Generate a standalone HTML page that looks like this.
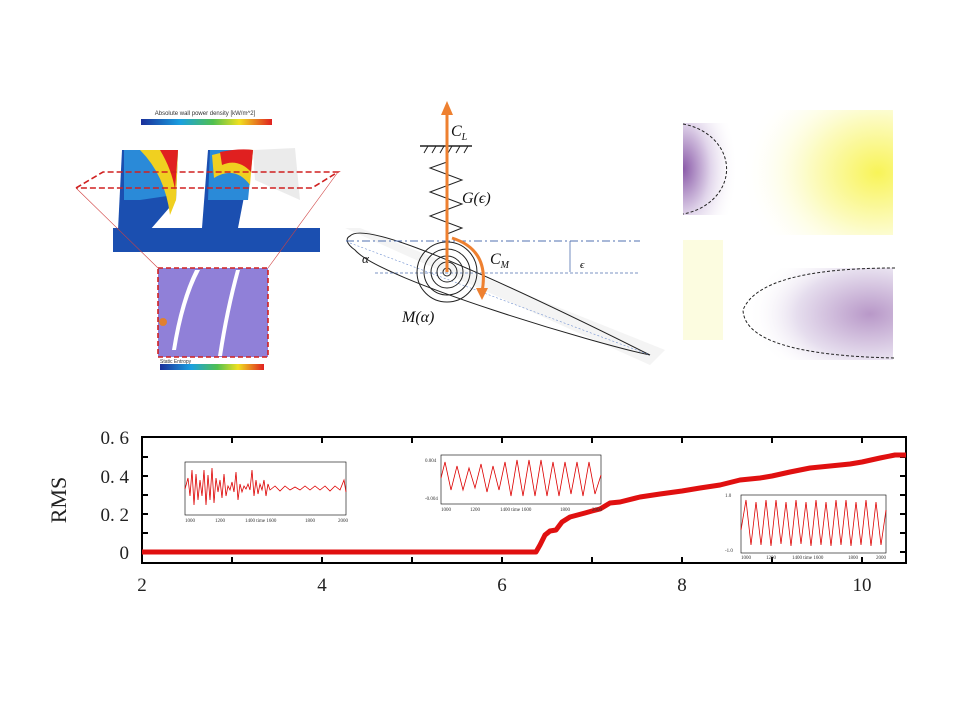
<!DOCTYPE html>
<html><head><meta charset="utf-8"><style>
body{margin:0;background:#fff;}
svg{display:block;}
</style></head><body>
<svg width="960" height="720" viewBox="0 0 960 720" xmlns="http://www.w3.org/2000/svg">
<defs>
<linearGradient id="jet" x1="0" x2="1">
<stop offset="0" stop-color="#1a2f9a"/><stop offset="0.3" stop-color="#1aa0e0"/><stop offset="0.55" stop-color="#50c050"/><stop offset="0.75" stop-color="#f0e020"/><stop offset="1" stop-color="#e02020"/></linearGradient>
<radialGradient id="pu" cx="0" cy="0.5" r="1"><stop offset="0" stop-color="#8a5aa8"/><stop offset="0.5" stop-color="#e0d4ea"/><stop offset="1" stop-color="#fff" stop-opacity="0"/></radialGradient>
<radialGradient id="ye" cx="0.9" cy="0.5" r="0.9"><stop offset="0" stop-color="#f6f020"/><stop offset="0.5" stop-color="#fbfab0"/><stop offset="1" stop-color="#fff" stop-opacity="0"/></radialGradient>
<radialGradient id="pu2" cx="0.85" cy="0.5" r="0.8"><stop offset="0" stop-color="#b898c8"/><stop offset="0.6" stop-color="#e6deee"/><stop offset="1" stop-color="#fff" stop-opacity="0"/></radialGradient>
</defs>
<!-- left figure -->
<text x="205" y="115" font-family="Liberation Sans, sans-serif" font-size="6" text-anchor="middle" fill="#333">Absolute wall power density [kW/m^2]</text>
<rect x="141" y="119" width="131" height="6" fill="url(#jet)"/>
<polygon points="122,150 178,150 176,200 150,230 118,230" fill="#1b4fb0"/>
<polygon points="124,150 176,150 174,195 140,200 124,200" fill="#2a8ad8"/>
<path d="M140,150 Q165,175 170,215 L176,200 L178,150Z" fill="#f0d020"/>
<path d="M160,150 Q172,170 175,190 L178,150Z" fill="#e02020"/>
<polygon points="208,150 253,150 238,228 202,228" fill="#1b4fb0"/>
<polygon points="210,150 253,150 248,200 208,200" fill="#2a8ad8"/>
<path d="M212,155 Q240,148 253,150 L250,185 Q235,165 214,178Z" fill="#f0d020"/>
<path d="M220,152 Q240,148 253,150 L251,172 Q238,158 222,165Z" fill="#e02020"/>
<polygon points="178,200 200,200 198,228 170,228" fill="#fff"/>
<polygon points="113,228 320,228 320,252 113,252" fill="#1b4fb0"/>
<path d="M253,150 L295,148 L300,200 L255,180Z" fill="#ccc" opacity="0.4"/>
<polyline points="76,188 103,172 338,172 312,188 76,188" fill="none" stroke="#d02020" stroke-width="1.6" stroke-dasharray="6,3"/>
<line x1="76" y1="188" x2="158" y2="268" stroke="#d04040" stroke-width="0.6"/>
<line x1="338" y1="172" x2="268" y2="268" stroke="#d04040" stroke-width="0.6"/>
<rect x="158" y="268" width="110" height="89" fill="#9080d8" stroke="#d02020" stroke-width="1.6" stroke-dasharray="5,3"/>
<path d="M195,270 Q180,300 172,350 L176,350 Q184,300 200,270Z" fill="#fff"/>
<path d="M236,270 Q225,310 218,356 L222,356 Q229,310 240,270Z" fill="#fff"/>
<circle cx="163" cy="322" r="4" fill="#e08030"/>
<text x="160" y="363" font-family="Liberation Sans, sans-serif" font-size="5" fill="#333">Static Entropy</text>
<rect x="160" y="364" width="104" height="6" fill="url(#jet)"/>
<!-- middle figure -->
<polygon points="345,228 360,228 665,350 650,365" fill="#f4f4f4"/>
<path d="M350,236 C360,225 420,240 650,355 C600,345 380,280 355,250 C345,243 346,238 350,236Z" fill="none" stroke="#222" stroke-width="1"/>
<line x1="350" y1="243" x2="650" y2="355" stroke="#7090d0" stroke-width="0.6" stroke-dasharray="2,2"/>
<line x1="346" y1="241" x2="640" y2="241" stroke="#5070b0" stroke-width="1" stroke-dasharray="8,3,2,3"/>
<line x1="375" y1="273" x2="640" y2="273" stroke="#5070b0" stroke-width="0.8" stroke-dasharray="3,2"/>
<line x1="570" y1="241" x2="570" y2="272" stroke="#5070b0" stroke-width="0.8"/>
<text x="580" y="268" font-family="Liberation Serif, serif" font-size="11" font-style="italic">ϵ</text>
<line x1="420" y1="146" x2="472" y2="146" stroke="#222" stroke-width="1.5"/>
<path d="M424,153 l4,-7 M432,153 l4,-7 M440,153 l4,-7 M448,153 l4,-7 M456,153 l4,-7 M464,153 l4,-7" stroke="#222"/>
<polyline points="447,146 447,162 430,168 462,180 430,192 462,204 430,216 462,228 447,234 447,270" fill="none" stroke="#222" stroke-width="1"/>
<g fill="none" stroke="#222" stroke-width="1"><circle cx="447" cy="272" r="30"/><circle cx="447" cy="272" r="23"/><circle cx="447" cy="272" r="16"/><circle cx="447" cy="272" r="10"/><circle cx="447" cy="272" r="4"/></g>
<line x1="447" y1="272" x2="447" y2="112" stroke="#ee8030" stroke-width="3"/>
<polygon points="441,115 447,101 453,115" fill="#ee8030"/>
<path d="M452,238 Q490,250 482,292" fill="none" stroke="#ee8030" stroke-width="3"/>
<polygon points="476,288 482,300 488,288" fill="#ee8030"/>
<g font-family="Liberation Serif, serif" font-size="16" font-style="italic" fill="#111">
<text x="451" y="136">C<tspan font-size="10" dy="4">L</tspan></text>
<text x="462" y="203">G(ϵ)</text>
<text x="490" y="264">C<tspan font-size="10" dy="4">M</tspan></text>
<text x="402" y="322">M(α)</text>
<text x="362" y="263" font-size="13">α</text></g>
<!-- right heatmap -->
<rect x="683" y="103" width="210" height="272" fill="#fff"/>
<rect x="740" y="110" width="153" height="125" fill="url(#ye)" opacity="0.75"/>
<rect x="683" y="123" width="55" height="92" fill="url(#pu)"/>
<rect x="683" y="240" width="40" height="100" fill="#fbfbd8" opacity="0.8"/>
<rect x="740" y="268" width="153" height="92" fill="url(#pu2)"/>
<path d="M683,124 A55,46 0 0 1 683,214" fill="none" stroke="#222" stroke-dasharray="3,2" stroke-width="1"/>
<path d="M895,268 Q760,268 743,310 Q745,355 895,358" fill="none" stroke="#222" stroke-dasharray="3,2" stroke-width="1"/>
<!-- main chart -->
<g font-family="Liberation Serif, serif" font-size="19" fill="#222">
<text x="129" y="444" text-anchor="end">0. 6</text>
<text x="129" y="483" text-anchor="end">0. 4</text>
<text x="129" y="521" text-anchor="end">0. 2</text>
<text x="129" y="559" text-anchor="end">0</text>
<text x="142" y="591" text-anchor="middle">2</text>
<text x="322" y="591" text-anchor="middle">4</text>
<text x="502" y="591" text-anchor="middle">6</text>
<text x="682" y="591" text-anchor="middle">8</text>
<text x="862" y="591" text-anchor="middle">10</text>
<text x="66" y="500" text-anchor="middle" font-size="22" transform="rotate(-90 66 500)">RMS</text></g>
<rect x="142" y="437" width="764" height="126" fill="none" stroke="#000" stroke-width="2"/>
<g stroke="#000" stroke-width="2">
<line x1="232" y1="437" x2="232" y2="443"/><line x1="322" y1="437" x2="322" y2="443"/><line x1="412" y1="437" x2="412" y2="443"/><line x1="502" y1="437" x2="502" y2="443"/><line x1="592" y1="437" x2="592" y2="443"/><line x1="682" y1="437" x2="682" y2="443"/><line x1="772" y1="437" x2="772" y2="443"/><line x1="862" y1="437" x2="862" y2="443"/>
<line x1="232" y1="563" x2="232" y2="557"/><line x1="322" y1="563" x2="322" y2="557"/><line x1="412" y1="563" x2="412" y2="557"/><line x1="502" y1="563" x2="502" y2="557"/><line x1="592" y1="563" x2="592" y2="557"/><line x1="682" y1="563" x2="682" y2="557"/><line x1="772" y1="563" x2="772" y2="557"/><line x1="862" y1="563" x2="862" y2="557"/>
<line x1="142" y1="476" x2="148" y2="476"/><line x1="142" y1="514" x2="148" y2="514"/><line x1="142" y1="533" x2="148" y2="533"/><line x1="142" y1="495" x2="148" y2="495"/><line x1="142" y1="457" x2="148" y2="457"/>
<line x1="906" y1="476" x2="900" y2="476"/><line x1="906" y1="514" x2="900" y2="514"/><line x1="906" y1="533" x2="900" y2="533"/><line x1="906" y1="495" x2="900" y2="495"/><line x1="906" y1="457" x2="900" y2="457"/><line x1="906" y1="552" x2="900" y2="552"/>
</g>
<polyline points="142,552 536,552 540,545 545,535 550,531 556,530 562,522 570,517 585,513 592,511 600,509 610,503 620,502 640,497 660,494 682,491 700,488 720,485 740,480 760,478 772,476 790,472 810,468 830,466 850,464 862,462 880,458 895,455 906,455" fill="none" stroke="#e01010" stroke-width="5" stroke-linejoin="round"/>
<g fill="#fff" stroke="#000" stroke-width="0.6">
<rect x="185" y="462" width="161" height="53"/>
<rect x="441" y="455" width="160" height="49"/>
<rect x="741" y="495" width="145" height="58"/></g>
<polyline points="185,489 188,478 190,496 192,470 194,505 196,474 198,500 200,480 202,496 204,470 206,505 208,475 210,500 212,468 214,503 216,478 218,492 220,480 222,498 224,474 226,496 228,486 230,490 232,482 234,492 236,472 238,500 240,484 242,492 244,486 246,489 248,484 250,490 252,470 254,496 256,480 258,494 260,484 262,490 264,480 266,496 268,484 270,490 275,486 280,491 285,486 290,490 295,487 300,490 305,486 310,490 315,486 320,490 325,486 330,491 335,486 340,490 344,480 346,492" fill="none" stroke="#d00" stroke-width="0.8"/>
<polyline points="441,478 445,462 451,490 457,466 463,490 469,468 475,488 481,464 487,492 493,466 499,490 505,462 511,496 517,460 523,496 529,460 535,496 541,460 547,496 553,462 559,496 565,462 571,494 577,462 583,496 589,462 595,494 601,475" fill="none" stroke="#d00" stroke-width="0.8"/>
<polyline points="741,530 746,500 751,545 756,502 761,545 766,500 771,546 776,500 781,544 786,502 791,546 796,500 801,544 806,502 811,546 816,500 821,545 826,502 831,546 836,500 841,545 846,500 851,546 856,502 861,545 866,500 871,546 876,502 881,545 886,510" fill="none" stroke="#d00" stroke-width="0.8"/>
<g font-family="Liberation Serif, serif" font-size="5" fill="#333">
<text x="185" y="522">1000</text><text x="215" y="522">1200</text><text x="245" y="522">1400 time 1600</text><text x="305" y="522">1800</text><text x="338" y="522">2000</text>
<text x="441" y="511">1000</text><text x="470" y="511">1200</text><text x="500" y="511">1400 time 1600</text><text x="560" y="511">1800</text><text x="592" y="511">2000</text>
<text x="741" y="559">1000</text><text x="766" y="559">1200</text><text x="792" y="559">1400 time 1600</text><text x="848" y="559">1800</text><text x="876" y="559">2000</text>
<text x="725" y="497">1.0</text><text x="725" y="552">-1.0</text><text x="425" y="462">0.004</text><text x="425" y="500">-0.004</text></g>
</svg>
</body></html>
